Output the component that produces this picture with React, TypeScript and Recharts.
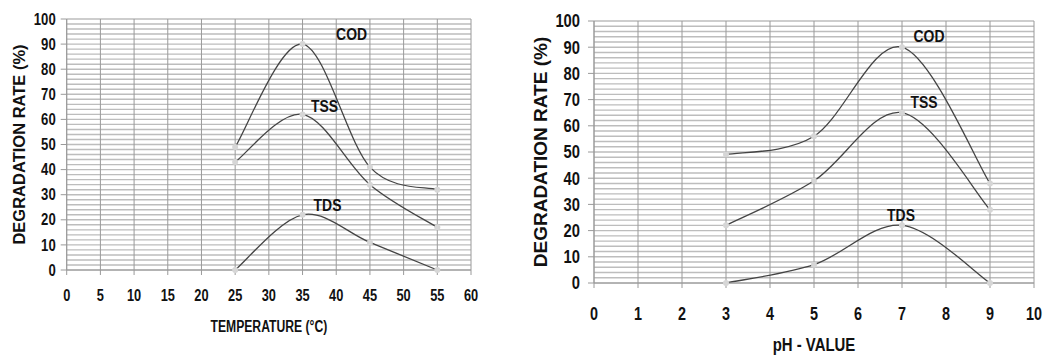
import { CartesianGrid, LabelList, Line, LineChart, XAxis, YAxis } from "recharts";

// temperature panel
const tempX = [25, 35, 45, 55];
const tempCOD = [49, 90, 41, 32];
const tempTSS = [43, 62, 34, 17];
const tempTDS = [0, 22, 11, 0];
const tempTicks = [0, 5, 10, 15, 20, 25, 30, 35, 40, 45, 50, 55, 60];

// pH panel
const phX = [3, 5, 7, 9];
const phCOD = [49, 56, 90, 38];
const phTSS = [22, 39, 65, 28];
const phTDS = [0, 7, 22, 0];
const phTicks = [0, 1, 2, 3, 4, 5, 6, 7, 8, 9, 10];

const rateTicks = [0, 10, 20, 30, 40, 50, 60, 70, 80, 90, 100];
const rateMinor = Array.from({ length: 51 }, (_, i) => i * 2);

const seriesNames = ["COD", "TSS", "TDS"];

const buildRows = (xs: number[], cod: number[], tss: number[], tds: number[]) =>
  xs.map((x, i) => ({ x, COD: cod[i], TSS: tss[i], TDS: tds[i] }));

const tempRows = buildRows(tempX, tempCOD, tempTSS, tempTDS);
const phRows = buildRows(phX, phCOD, phTSS, phTDS);

const SANS = "'Liberation Sans', Arial, sans-serif";

// Excel-style smoothed line (catmull-rom through the points)
const smoothCurve = (ctx: any) => {
  let pts: number[][] = [];
  return {
    areaStart() {},
    areaEnd() {},
    lineStart() {
      pts = [];
    },
    point(x: number, y: number) {
      pts.push([+x, +y]);
    },
    lineEnd() {
      if (!pts.length) return;
      ctx.moveTo(pts[0][0], pts[0][1]);
      for (let i = 0; i < pts.length - 1; i++) {
        const p0 = pts[i - 1] || pts[i];
        const p1 = pts[i];
        const p2 = pts[i + 1];
        const p3 = pts[i + 2] || p2;
        ctx.bezierCurveTo(
          p1[0] + (p2[0] - p0[0]) / 6,
          p1[1] + (p2[1] - p0[1]) / 6,
          p2[0] - (p3[0] - p1[0]) / 6,
          p2[1] - (p3[1] - p1[1]) / 6,
          p2[0],
          p2[1]
        );
      }
    },
  };
};

// bold text squeezed horizontally, like the condensed font in the scan
function Squeezed({ x, y, size, sx, anchor = "middle", dy = "0.35em", children }: any) {
  return (
    <text
      transform={`translate(${x} ${y}) scale(${sx} 1)`}
      x={0}
      y={0}
      dy={dy}
      textAnchor={anchor}
      fontFamily={SANS}
      fontWeight="bold"
      fontSize={size}
      fill="#111"
    >
      {children}
    </text>
  );
}

function XTick({ x, y, payload, size }: any) {
  return (
    <Squeezed x={x} y={y} size={size} sx={0.8} dy="0.71em">
      {payload.value}
    </Squeezed>
  );
}

function YTick({ x, y, payload, size }: any) {
  return (
    <Squeezed x={x} y={y} size={size} sx={0.82} anchor="end">
      {payload.value}
    </Squeezed>
  );
}

function PeakLabel(props: any) {
  const { x, y, index, name, peak, dx, dy, size } = props;
  if (index !== peak) return null;
  return (
    <Squeezed x={x + dx} y={y + dy} size={size} sx={0.82}>
      {name}
    </Squeezed>
  );
}

function YTitle(props: any) {
  const { viewBox, cx, size, text } = props;
  const cy = viewBox.y + viewBox.height / 2;
  return (
    <text
      x={cx}
      y={cy}
      transform={`rotate(-90 ${cx} ${cy})`}
      textAnchor="middle"
      dominantBaseline="central"
      fontFamily={SANS}
      fontWeight="bold"
      fontSize={size}
      fill="#111"
    >
      {text}
    </text>
  );
}

function XTitle(props: any) {
  const { viewBox, cy, size, sx, text } = props;
  const cx = viewBox.x + viewBox.width / 2;
  return (
    <Squeezed x={cx} y={cy} size={size} sx={sx}>
      {text}
    </Squeezed>
  );
}

type PanelProps = {
  rows: any[];
  xTicks: number[];
  xTitle: string;
  left: number;
  width: number;
  top: number;
  plotBottom: number;
  yAxisWidth: number;
  rightMargin: number;
  tickFont: number;
  xTickGap: number;
  yTickGap: number;
  yTitleX: number;
  yTitleSize: number;
  xTitleY: number;
  xTitleSize: number;
  xTitleSx: number;
  labelSize: number;
  labelOffsets: number[][];
};

function Panel(p: PanelProps) {
  const xAxisH = 358 - p.plotBottom - 4;
  return (
    <div style={{ position: "absolute", left: p.left, top: 0 }}>
      <LineChart
        width={p.width}
        height={358}
        data={p.rows}
        margin={{ top: p.top, right: p.rightMargin, left: 0, bottom: 4 }}
      >
        <CartesianGrid horizontalValues={rateMinor} stroke="#bdbdbd" strokeWidth={1.4} vertical={false} />
        <CartesianGrid verticalValues={p.xTicks} stroke="#9a9a9a" strokeWidth={1} horizontal={false} />
        <XAxis
          type="number"
          dataKey="x"
          domain={[p.xTicks[0], p.xTicks[p.xTicks.length - 1]]}
          ticks={p.xTicks}
          interval={0}
          height={xAxisH}
          tick={<XTick size={p.tickFont} />}
          tickSize={5}
          tickMargin={p.xTickGap}
          stroke="#9a9a9a"
          label={{
            content: (lp: any) => (
              <XTitle {...lp} cy={p.xTitleY} size={p.xTitleSize} sx={p.xTitleSx} text={p.xTitle} />
            ),
          }}
        />
        <YAxis
          type="number"
          domain={[0, 100]}
          ticks={rateTicks}
          interval={0}
          width={p.yAxisWidth}
          tick={<YTick size={p.tickFont} />}
          tickSize={6}
          tickMargin={p.yTickGap}
          stroke="#9a9a9a"
          label={{
            content: (lp: any) => (
              <YTitle {...lp} cx={p.yTitleX} size={p.yTitleSize} text="DEGRADATION RATE (%)" />
            ),
          }}
        />
        {seriesNames.map((name, si) => {
          const vals = p.rows.map((r) => r[name]);
          const peak = vals.indexOf(Math.max(...vals));
          return (
            <Line
              key={name}
              dataKey={name}
              type={smoothCurve as any}
              stroke="#444"
              strokeWidth={1.3}
              dot={{ r: 3, fill: "#d6d6d6", stroke: "none", strokeWidth: 0 }}
              activeDot={false}
              isAnimationActive={false}
            >
              <LabelList
                dataKey={name}
                content={(lp: any) => (
                  <PeakLabel
                    {...lp}
                    name={name}
                    peak={peak}
                    dx={p.labelOffsets[si][0]}
                    dy={p.labelOffsets[si][1]}
                    size={p.labelSize}
                  />
                )}
              />
            </Line>
          );
        })}
      </LineChart>
    </div>
  );
}

export default function App() {
  return (
    <div style={{ position: "absolute", left: 0, top: 0, width: 1043, height: 358, background: "#fff" }}>
      <Panel
        rows={tempRows}
        xTicks={tempTicks}
        xTitle="TEMPERATURE (°C)"
        left={0}
        width={480}
        top={19}
        plotBottom={270}
        yAxisWidth={66.7}
        rightMargin={9}
        tickFont={16}
        xTickGap={15}
        yTickGap={5}
        yTitleX={19}
        yTitleSize={16.5}
        xTitleY={326}
        xTitleSize={16}
        xTitleSx={0.76}
        labelSize={17}
        labelOffsets={[
          [49, -10],
          [22, -8],
          [25, -10],
        ]}
      />
      <Panel
        rows={phRows}
        xTicks={phTicks}
        xTitle="pH - VALUE"
        left={500}
        width={543}
        top={21}
        plotBottom={283}
        yAxisWidth={94}
        rightMargin={9}
        tickFont={18}
        xTickGap={19}
        yTickGap={8}
        yTitleX={40}
        yTitleSize={19}
        xTitleY={345}
        xTitleSize={18}
        xTitleSx={0.83}
        labelSize={17}
        labelOffsets={[
          [27, -11],
          [22, -11],
          [-1, -10],
        ]}
      />
    </div>
  );
}
